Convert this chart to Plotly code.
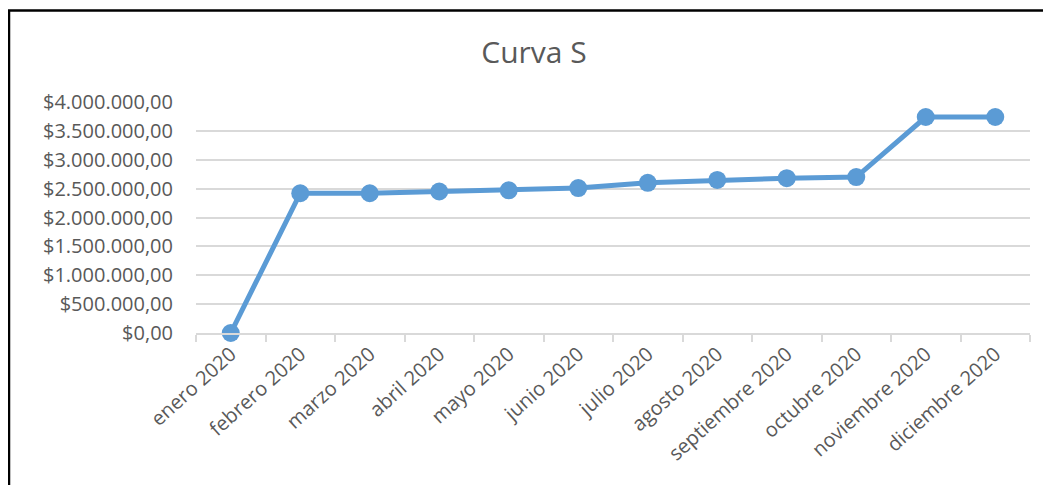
import plotly.graph_objects as go

meses = ["enero 2020", "febrero 2020", "marzo 2020", "abril 2020", "mayo 2020",
         "junio 2020", "julio 2020", "agosto 2020", "septiembre 2020",
         "octubre 2020", "noviembre 2020", "diciembre 2020"]
valores = [0, 2420000, 2420000, 2450000, 2470000, 2510000, 2600000, 2650000,
           2680000, 2700000, 3740000, 3740000]
tick_vals = [0, 500000, 1000000, 1500000, 2000000, 2500000, 3000000, 3500000, 4000000]
tick_text = ["$0,00", "$500.000,00", "$1.000.000,00", "$1.500.000,00", "$2.000.000,00",
             "$2.500.000,00", "$3.000.000,00", "$3.500.000,00", "$4.000.000,00"]

# page body has an 8px margin; figure coordinates = screen - 8
L, T, PW, PH = 188, 94, 834, 231
W, H = 1043, 477

fig = go.Figure()
fig.add_trace(go.Scatter(
    x=meses, y=valores, mode="lines+markers",
    line=dict(color="#5b9bd5", width=5),
    marker=dict(color="#5b9bd5", size=18),
    cliponaxis=False, showlegend=False,
))

fig.update_layout(
    width=W, height=H,
    margin=dict(l=L, r=W - L - PW, t=T, b=H - T - PH),
    paper_bgcolor="white", plot_bgcolor="white",
    font=dict(family="Open Sans", color="#595959"),
    title=dict(text="Curva S", x=(526 - L) / PW, xref="paper", xanchor="center",
               y=1 - 44 / H, yanchor="middle",
               font=dict(size=30, color="#595959", family="Open Sans")),
    shapes=[dict(type="rect", xref="paper", yref="paper",
                 x0=(1 - L) / PW, x1=1.2, y0=-1.5, y1=(T + PH - 2.5) / PH,
                 line=dict(color="black", width=2.5), layer="above")],
)
fig.update_xaxes(
    type="category", range=[-0.5, len(meses) - 0.5],
    showgrid=False, showline=True, linecolor="#d9d9d9", linewidth=1.5,
    ticks="outside", tickson="boundaries", ticklen=7, tickcolor="#d9d9d9", tickwidth=1.5,
    tickangle=-42, tickfont=dict(size=20, color="#595959"),
)
fig.update_yaxes(
    range=[0, 4000000], tickvals=tick_vals, ticktext=tick_text,
    showgrid=True, gridcolor="#d9d9d9", gridwidth=1.5, zeroline=False,
    tickfont=dict(size=20, color="#595959"), ticklabelstandoff=22,
)

fig.write_html("out.html")
